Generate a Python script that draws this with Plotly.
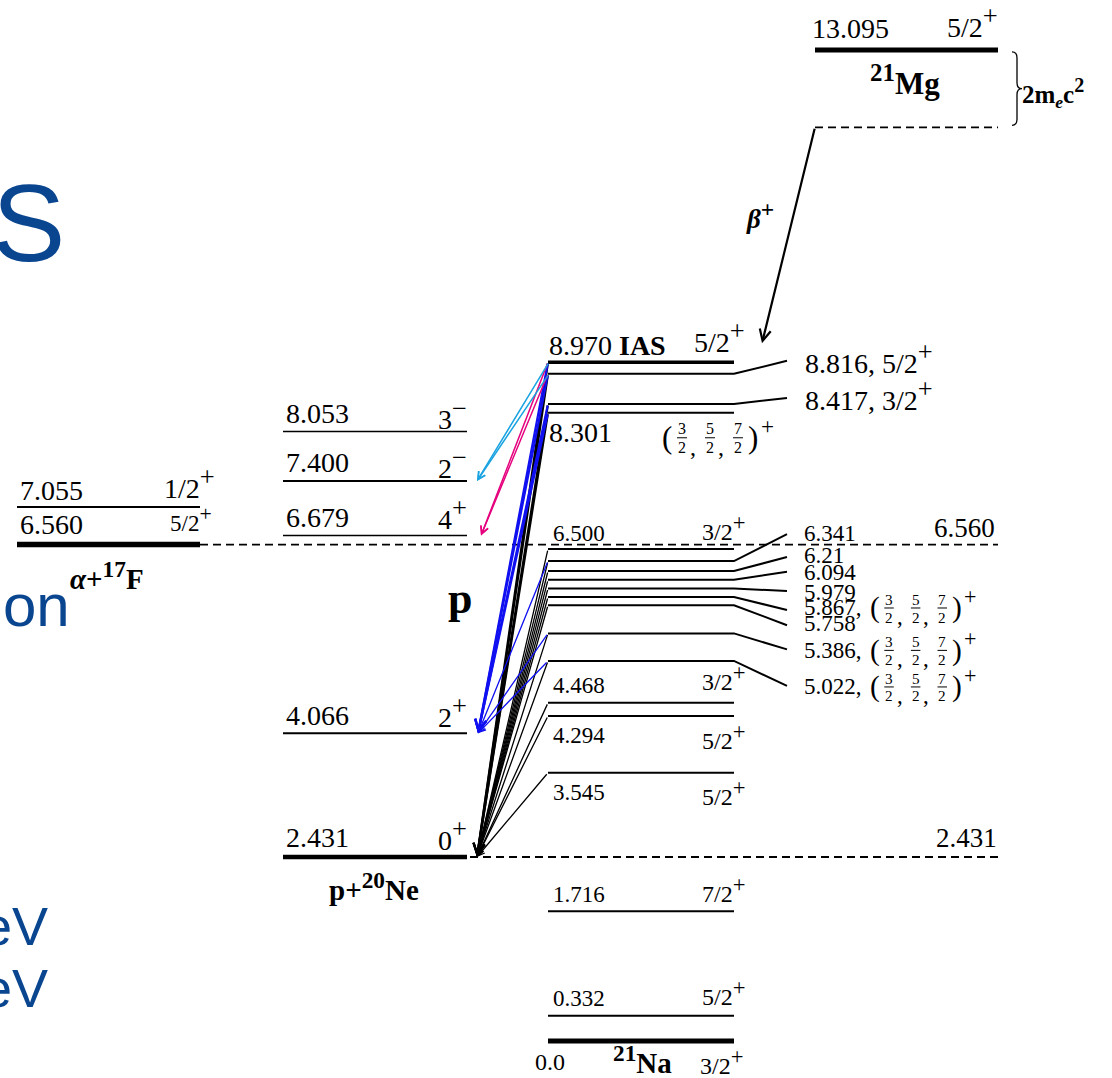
import plotly.graph_objects as go

# ---------------- level data (MeV, 21Na excitation scale) ----------------
MG21_GS = "13.095"
MG21_GS_JPI = "5/2+"
TWO_ME_C2 = 1.022

NA21_GS = "0.0"
NA21_GS_JPI = "3/2+"
NA21_IAS = "8.970"
NA21_IAS_JPI = "5/2+"

# 21Na levels labelled inside the column
NA21_IN = ["0.332", "1.716", "3.545", "4.294", "4.468", "6.500", "8.301"]
NA21_IN_JPI = ["5/2+", "7/2+", "5/2+", "5/2+", "3/2+", "3/2+", "(3/2,5/2,7/2)+"]

# 21Na levels labelled to the right of the column
NA21_SIDE = ["8.816", "8.417", "6.341", "6.21", "6.094", "5.979", "5.867", "5.758", "5.386", "5.022"]
NA21_SIDE_JPI = ["5/2+", "3/2+", "", "", "", "", "(3/2,5/2,7/2)+", "", "(3/2,5/2,7/2)+", "(3/2,5/2,7/2)+"]

# p + 20Ne channel (threshold + 20Ne excited states)
P_NE20 = ["2.431", "4.066", "6.679", "7.400", "8.053"]
P_NE20_JPI = ["0+", "2+", "4+", "2−", "3−"]

# alpha + 17F channel
A_F17 = ["6.560", "7.055"]
A_F17_JPI = ["5/2+", "1/2+"]

# proton decays: initial 21Na levels feeding each 20Ne final state
TO_NE20_0P = ["8.970", "8.816", "8.417", "8.301", "6.500", "6.341", "6.21", "6.094", "5.979",
              "5.867", "5.758", "5.386", "5.022", "4.468", "4.294", "3.545"]
TO_NE20_2P = ["8.970", "8.816", "8.417", "8.301", "6.341", "5.386", "5.022"]
TO_NE20_4P = ["8.970", "8.816"]
TO_NE20_2M = ["8.970", "8.816"]

# ---------------- drawing geometry ----------------
PX = 75.68                      # pixels per MeV
E_TOP = 1041 / PX
E_BOT = -37 / PX
COL_A = (17, 200)
COL_NE = (283, 467)
COL_NA = (548, 734)
COL_MG = (815, 998)
DASH_END = 998
BEND_X = 787
SIDE_X = 803
ARROW_TIP_X = 477

# label offsets in pixels (positive = up)
NA21_IN_DY = [(17, 23), (17, 22), (-20, -20), (-19, -20), (17, 25), (16, 22), (-20, -25)]
NA21_SIDE_BEND = [13, 6, 27, 14, 8, -2.5, -13, -20, -16, -25]
NA21_SIDE_DY = [16, 9, 28, 16, 7, -3.5, -11, -18, -17, -26]
P_NE20_DY = [(20, 22), (18, 21), (18, 22), (18, 18), (18, 18)]

SERIF = "Liberation Serif"
SANS = "Liberation Sans"
BLUE_TXT = "#0a4690"
C_BLUE = "#1010f0"
C_CYAN = "#1aa3e0"
C_PINK = "#e5007d"

fig = go.Figure()
ann = []
shp = []


def e_px(ypx):
    return (1041 - ypx) / PX


def big_sup(s, pct=135):
    return f"<sup><span style='font-size:{pct}%'>{s}</span></sup>"


def jpi_html(s):
    if s and s[-1] in "+−":
        return s[:-1] + big_sup(s[-1])
    return s


def text(x, e, s, size, dy=0, xanchor="left", family=SERIF, color="black"):
    ann.append(dict(x=x, y=e, xref="x", yref="y", text=s, showarrow=False,
                    xanchor=xanchor, yanchor="middle", yshift=dy,
                    font=dict(family=family, size=size, color=color)))


def line(xs, es, width, dash=None, color="black"):
    fig.add_trace(go.Scatter(x=xs, y=es, mode="lines", hoverinfo="skip",
                             line=dict(color=color, width=width, dash=dash)))


def arrow(x_from, e_from, x_to, e_to, color, width):
    ann.append(dict(x=x_to, y=e_to, ax=x_from, ay=e_from, xref="x", yref="y",
                    axref="x", ayref="y", text="", showarrow=True, arrowhead=5,
                    arrowsize=1.0, arrowwidth=width, arrowcolor=color, standoff=0))


def spin_set(x0, e, dy, s, jpi):
    """(a/2, b/2, c/2)^pi with stacked fractions."""
    inner = jpi[jpi.index("(") + 1: jpi.index(")")]
    parity = jpi[jpi.index(")") + 1:]
    fracs = [f.split("/") for f in inner.split(",")]
    fn = 16 * s
    fp = 31 * s
    yc = e + dy / PX
    text(x0 + 4 * s, e, "(", fp, dy=dy, xanchor="center")
    cx = x0 + 19 * s
    for i, (n, d) in enumerate(fracs):
        text(cx, e, n, fn, dy=dy + 9 * s, xanchor="center")
        text(cx, e, d, fn, dy=dy - 9.5 * s, xanchor="center")
        shp.append(dict(type="line", xref="x", yref="y", x0=cx - 5 * s, x1=cx + 5 * s,
                        y0=yc, y1=yc, line=dict(color="black", width=1.0)))
        if i < len(fracs) - 1:
            text(cx + 11 * s, e, ",", fn * 1.5, dy=dy - 9 * s, xanchor="center")
        cx += 28 * s
    text(x0 + 90 * s, e, ")", fp, dy=dy, xanchor="center")
    text(x0 + 104 * s, e, parity, fn * 1.45, dy=dy + 12 * s, xanchor="center")


# ---------------- threshold dashed lines ----------------
e_a = float(A_F17[0])
e_p = float(P_NE20[0])
e_mg = float(MG21_GS)
line([COL_A[1], DASH_END], [e_a, e_a], 1.8, dash="8px,5px")
line([COL_NE[1] + 3, DASH_END], [e_p, e_p], 1.8, dash="8px,5px")
line([COL_MG[0], COL_MG[1]], [e_mg - TWO_ME_C2] * 2, 1.8, dash="8px,5px")
text(997, e_a, A_F17[0], 27, dy=17, xanchor="right")
text(999, e_p, P_NE20[0], 27, dy=19, xanchor="right")

# ---------------- 21Mg ----------------
line(list(COL_MG), [e_mg, e_mg], 5)
text(810, e_mg, MG21_GS, 28, dy=21)
text(1000, e_mg, jpi_html(MG21_GS_JPI), 28, dy=28, xanchor="right")
text(905, e_mg, "<b>" + big_sup("21", 115) + "Mg</b>", 31, dy=-30, xanchor="center")

# 2 m_e c^2 brace
t, b = e_mg - 2 / PX, e_mg - TWO_ME_C2 + 2 / PX
m = (t + b) / 2
k = 6 / PX
shp.append(dict(type="path", xref="x", yref="y", line=dict(color="black", width=1.3),
                path=(f"M 1012,{t} Q 1017,{t} 1017,{t - k} L 1017,{m + k} "
                      f"Q 1017,{m} 1022,{m} Q 1017,{m} 1017,{m - k} "
                      f"L 1017,{b + k} Q 1017,{b} 1012,{b}")))
text(1020, m, "<b>2m<sub><i>e</i></sub>c" + big_sup("2", 115) + "</b>", 25, dy=-4)

# beta+ feeding of the IAS
e_ias = float(NA21_IAS)
arrow(COL_MG[0], e_mg - TWO_ME_C2, 762, e_ias + 19 / PX, "black", 2.2)
text(760, e_px(215), "<b><i>β</i>" + big_sup("+", 125) + "</b>", 27, xanchor="center")

# ---------------- 21Na ----------------
line(list(COL_NA), [0.0, 0.0], 5)
text(533, 0.0, NA21_GS, 24, dy=-21)
text(642, 0.0, "<b>" + big_sup("21", 115) + "Na</b>", 29, dy=-18, xanchor="center")
text(698, 0.0, jpi_html(NA21_GS_JPI), 24, dy=-20)

line(list(COL_NA), [e_ias, e_ias], 3.5)
text(547, e_ias, NA21_IAS + " <b>IAS</b>", 28, dy=17)
text(747, e_ias, jpi_html(NA21_IAS_JPI), 28, dy=25, xanchor="right")

for lab, jpi, (dn, dj) in zip(NA21_IN, NA21_IN_JPI, NA21_IN_DY):
    e = float(lab)
    line(list(COL_NA), [e, e], 2)
    if jpi.startswith("("):
        text(547, e, lab, 28, dy=dn)
        spin_set(663, e, dj, 1.0, jpi)
    else:
        text(551, e, lab, 23, dy=dn)
        text(747, e, jpi_html(jpi), 24, dy=dj, xanchor="right")

for i, (lab, jpi) in enumerate(zip(NA21_SIDE, NA21_SIDE_JPI)):
    e = float(lab)
    line([COL_NA[0], COL_NA[1], BEND_X], [e, e, e + NA21_SIDE_BEND[i] / PX], 2)
    big = i < 2
    size = 28 if big else 23
    if jpi.startswith("("):
        text(SIDE_X - 1, e, lab + ",", size, dy=NA21_SIDE_DY[i])
        spin_set(SIDE_X + 68, e, NA21_SIDE_DY[i], 0.95, jpi)
    elif jpi:
        text(SIDE_X, e, lab + ", " + jpi_html(jpi), size, dy=NA21_SIDE_DY[i])
    else:
        text(SIDE_X - 1, e, lab, size, dy=NA21_SIDE_DY[i])

# ---------------- p + 20Ne ----------------
for i, (lab, jpi) in enumerate(zip(P_NE20, P_NE20_JPI)):
    e = float(lab)
    line(list(COL_NE), [e, e], 4.5 if i == 0 else (2 if i in (1, 3) else 1.5))
    text(284, e, lab, 28, dy=P_NE20_DY[i][0])
    text(469, e, jpi_html(jpi), 28, dy=P_NE20_DY[i][1], xanchor="right")
text(374, e_p, "<b>p+" + big_sup("20", 115) + "Ne</b>", 29, dy=-29, xanchor="center")
text(460, e_px(598), "<b>p</b>", 44, xanchor="center")

# ---------------- alpha + 17F ----------------
line(list(COL_A), [e_a, e_a], 5.5)
e_a1 = float(A_F17[1])
line(list(COL_A), [e_a1, e_a1], 2)
text(18, e_a1, A_F17[1], 28, dy=17)
text(217, e_a1, jpi_html(A_F17_JPI[1]), 28, dy=24, xanchor="right")
text(18, e_a, A_F17[0], 28, dy=20)
text(214, e_a, jpi_html(A_F17_JPI[0]), 23, dy=26, xanchor="right")
text(107, e_a, "<b><i>α</i>+" + big_sup("17", 115) + "F</b>", 29, dy=-31, xanchor="center")

# ---------------- proton decay branches ----------------
for lab in TO_NE20_0P:
    e = float(lab)
    arrow(COL_NA[0], e, ARROW_TIP_X, float(P_NE20[0]), "black", 2.2 if e > 8 else 1.3)
for lab in TO_NE20_2P:
    e = float(lab)
    arrow(COL_NA[0], e, ARROW_TIP_X + 1, float(P_NE20[1]), C_BLUE, 2.2 if e > 8 else 1.3)
for lab in TO_NE20_4P:
    arrow(COL_NA[0], float(lab), ARROW_TIP_X + 4, float(P_NE20[2]), C_PINK, 1.5)
for lab in TO_NE20_2M:
    arrow(COL_NA[0] + 1, float(lab), ARROW_TIP_X, float(P_NE20[3]), C_CYAN, 1.5)

# ---------------- slide text fragments ----------------
text(67, e_px(222), "S", 110, xanchor="right", family=SANS, color=BLUE_TXT)
text(72, e_px(605), "on", 60, xanchor="right", family=SANS, color=BLUE_TXT)
text(50, e_px(926), "eV", 54, xanchor="right", family=SANS, color=BLUE_TXT)
text(50, e_px(988), "eV", 54, xanchor="right", family=SANS, color=BLUE_TXT)

fig.update_layout(
    width=1112, height=1078,
    margin=dict(l=0, r=0, t=0, b=0),
    paper_bgcolor="white", plot_bgcolor="white",
    showlegend=False, hovermode=False,
    xaxis=dict(range=[0, 1112], visible=False, fixedrange=True),
    yaxis=dict(range=[E_BOT, E_TOP], visible=False, fixedrange=True),
    annotations=ann, shapes=shp,
)
fig.write_html("out.html", config={"displayModeBar": False})
